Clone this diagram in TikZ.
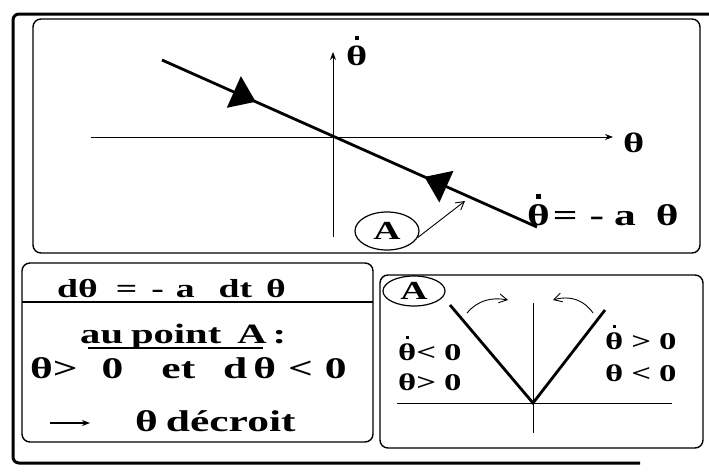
\documentclass[tikz,border=0pt]{standalone}
\usepackage{fontspec}
\setmainfont{Liberation Serif}[FakeStretch=1.45]
\usetikzlibrary{arrows.meta,decorations.markings,shapes.geometric}

% theta with a dot above
\newsavebox\thbox
\newcommand{\thd}{\sbox\thbox{θ}\rlap{\makebox[\wd\thbox]{\raisebox{0.88em}{\rule{0.14em}{0.14em}}}}\usebox\thbox}
\newcommand{\gap}[1]{\hspace*{#1pt}}

\tikzset{
  panel/.style={line width=1.4pt, rounded corners=8pt},
  axis/.style={line width=0.9pt},
  phase/.style={line width=2.8pt},
  lbl/.style={font=\fontsize{#1}{#1}\selectfont\bfseries, inner sep=0pt, anchor=base west},
  lbl/.default=28,
  ptA/.style={draw, ellipse, line width=1.2pt, inner sep=0pt,
    font=\fontsize{26}{28}\selectfont\bfseries},
  flow/.style={postaction={decorate}, decoration={markings,
    mark=at position 0.25 with {\arrow{Triangle[length=24pt,width=34pt]}},
    mark=at position 0.70 with {\arrowreversed{Triangle[length=24pt,width=34pt]}}}},
  barb/.style={line width=0.9pt, -{Straight Barb[length=8pt,width=9pt]}},
}

\begin{document}
\begin{tikzpicture}[x=1pt, y=-1pt, >={Stealth[length=8pt]}]
  \useasboundingbox (0,0) rectangle (709,472);

  % frames
  \draw[line width=3pt, rounded corners=6pt] (640,463) -- (13,463) -- (13,14) -- (709,14);
  \draw[panel] (33,19) rectangle (700,253);
  \draw[panel] (22,263) rectangle (373,442);
  \draw[panel] (380,275) rectangle (703,448);

  % phase plane
  \coordinate (O) at (333,137);
  \draw[axis,->] (91,137) -- (613,137);
  \draw[axis,->] (333,237) -- (333,52);
  \node[lbl] (thx) at (623,152) {θ};
  \node[lbl] (thy) at (346,65) {\thd};
  \draw[phase, flow] (162,60) -- (537,227);
  \node[lbl=30] (law) at (527,225) {\thd\gap{3}=\gap{12}-\gap{10}a\gap{20}θ};

  % point A
  \node[ptA, minimum width=64pt, minimum height=38pt] (A1) at (387,231) {A};
  \coordinate (A1tip) at (465,201);
  \draw[barb] (A1.-12) -- (A1tip);

  % equations
  \node[lbl=26] (dth) at (57,297) {dθ\gap{18}=\gap{14}-\gap{12}a\gap{24}dt\gap{14}θ};
  \draw[line width=1.2pt] (22,302) -- (373,302);
  \node[lbl=28] (auA) at (80,343) {au\gap{8}point\gap{16}A\gap{6}:};
  \draw[line width=1.2pt] (88,348) -- (263,348);
  \node[lbl=30] (cond) at (30,378) {θ>\gap{24}0\gap{38}et\gap{28}d\gap{6}θ\gap{12}<\gap{12}0};
  \coordinate (arrL) at (50,423);
  \coordinate (arrR) at (90,423);
  \draw[line width=1.1pt, ->] (arrL) -- (arrR);
  \node[lbl=30] (decr) at (135,431) {θ\gap{8}décroit};

  % zoom near A
  \node[ptA, minimum width=62pt, minimum height=30pt] (A2) at (414,291) {A};
  \coordinate (V) at (533,403);
  \draw[axis] (533,303) -- (533,433);
  \draw[axis] (397,403) -- (672,403);
  \draw[phase] (450,305) -- (V) -- (605,310);
  \draw[barb] (467,313) .. controls (478,300) and (492,297) .. (508,300);
  \draw[barb] (593,313) .. controls (584,300) and (570,295) .. (553,300);
  \node[lbl=24] (l1) at (398,360) {\thd<\gap{8}0};
  \node[lbl=24] (l2) at (398,390) {θ>\gap{8}0};
  \node[lbl=24] (r1) at (605,349) {\thd\gap{8}>\gap{8}0};
  \node[lbl=24] (r2) at (605,381) {θ\gap{8}<\gap{8}0};
\end{tikzpicture}
\end{document}
